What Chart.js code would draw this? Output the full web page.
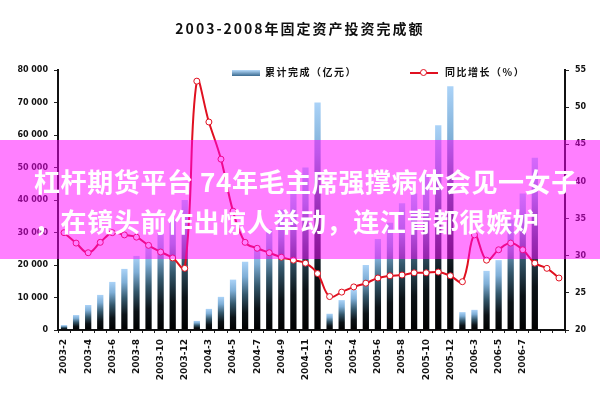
<!DOCTYPE html>
<html>
<head>
<meta charset="utf-8">
<script src="https://cdn.jsdelivr.net/npm/chart.js@4"></script>
<style>
    body { margin: 0; background: #fff; }
    #wrap { position: relative; width: 600px; height: 400px; overflow: hidden; font-family: "Noto Sans CJK SC", sans-serif; }
    #chart { position: absolute; left: 0; top: 0; }
    #title { position: absolute; top: 18px; left: 0; width: 600px; text-align: center; font-size: 14px; font-weight: bold; letter-spacing: 2px; color: #111; }
    .leg { position: absolute; top: 64px; font-size: 10px; font-weight: bold; letter-spacing: 1.5px; color: #111; }
    .swatch-bar { position: absolute; top: 70px; left: 232px; width: 28px; height: 6px; background: linear-gradient(#b8dcfc, #3a6a90); }
    .swatch-line { position: absolute; top: 72px; left: 410px; width: 28px; height: 2px; background: #e01020; }
    .swatch-dot { position: absolute; top: 69px; left: 420px; width: 5px; height: 5px; border: 1px solid #e01020; border-radius: 50%; background: #fff; }
    #banner { position: absolute; left: 0; top: 140px; width: 600px; height: 119px; background: rgba(255, 0, 255, 0.5); }
    .bl { position: absolute; left: 34px; color: #fff; font-size: 26px; font-weight: bold; letter-spacing: 0.6px; white-space: nowrap; }
</style>
</head>
<body>
<div id="wrap">
    <canvas id="chart" width="600" height="400"></canvas>
    <div id="title">2003-2008年固定资产投资完成额</div>
    <div class="swatch-bar"></div>
    <div class="leg" style="left:265px">累计完成（亿元）</div>
    <div class="swatch-line"></div>
    <div class="swatch-dot"></div>
    <div class="leg" style="left:445px">同比增长（%）</div>
    <div id="banner">
        <div class="bl" style="top:22px">杠杆期货平台 74年毛主席强撑病体会见一女子</div>
        <div class="bl" style="top:62px">，在镜头前作出惊人举动，连江青都很嫉妒</div>
    </div>
</div>
<script>
// months shown on the x axis (Feb..Dec each year, Jan is merged into Feb)
const months = [
    '2003-2', '2003-3', '2003-4', '2003-5', '2003-6', '2003-7', '2003-8', '2003-9', '2003-10', '2003-11', '2003-12',
    '2004-2', '2004-3', '2004-4', '2004-5', '2004-6', '2004-7', '2004-8', '2004-9', '2004-10', '2004-11', '2004-12',
    '2005-2', '2005-3', '2005-4', '2005-5', '2005-6', '2005-7', '2005-8', '2005-9', '2005-10', '2005-11', '2005-12',
    '2006-2', '2006-3', '2006-4', '2006-5', '2006-6', '2006-7', '2006-8', '', ''
];

// 累计完成 (亿元)
const invest = [
    1500, 4600, 7700, 10800, 14800, 18800, 22800, 26000, 30000, 34000, 40000,
    2800, 6500, 10200, 15500, 21000, 26000, 31000, 37000, 43000, 50000, 70000,
    5000, 9200, 12300, 20000, 28000, 33000, 39000, 42000, 48000, 63000, 75000,
    5500, 6200, 18200, 21500, 34000, 42000, 53000, null, null
];

// 同比增长 (%)
const growth = [
    33.1, 31.7, 30.4, 31.8, 33.1, 32.8, 32.5, 31.4, 30.5, 29.7, 28.3,
    53.5, 48.0, 43.0, 36.0, 31.8, 31.0, 30.4, 29.8, 29.4, 29.0, 27.6,
    24.5, 25.1, 25.8, 26.3, 27.0, 27.3, 27.4, 27.7, 27.7, 27.8, 27.3,
    26.5, 32.8, 29.4, 30.8, 31.7, 30.8, 29.0, 28.3, 27.0
];

const leftTicks = [0, 10000, 20000, 30000, 40000, 50000, 60000, 70000, 80000];
const rightTicks = [20, 25, 30, 35, 40, 45, 50, 55];

const tickFont = { family: "'DejaVu Sans', sans-serif", size: 8, weight: 'bold' };

// each bar fades from light blue at its top to black at the base
function barGradient(context) {
    const chart = context.chart;
    if (!chart.chartArea || context.raw == null) return '#6a9ac0';
    const yScale = chart.scales.y;
    const top = yScale.getPixelForValue(context.raw);
    const base = yScale.getPixelForValue(0);
    if (!isFinite(top) || base - top < 1) return '#1a2a34';
    const g = chart.ctx.createLinearGradient(0, top, 0, base);
    g.addColorStop(0, '#abd3f8');
    g.addColorStop(0.22, '#7eaed6');
    g.addColorStop(0.48, '#34586c');
    g.addColorStop(0.75, '#0b1216');
    g.addColorStop(1, '#000');
    return g;
}

new Chart(document.getElementById('chart'), {
    type: 'bar',
    data: {
        labels: months,
        datasets: [
            {
                type: 'line',
                label: '同比增长（%）',
                data: growth,
                yAxisID: 'y1',
                borderColor: '#e01020',
                borderWidth: 2,
                tension: 0.4,
                pointRadius: 3,
                pointBorderWidth: 1,
                pointBackgroundColor: '#fff',
                pointBorderColor: '#e01020',
                order: 0,
            },
            {
                label: '累计完成（亿元）',
                data: invest,
                yAxisID: 'y',
                backgroundColor: barGradient,
                categoryPercentage: 1,
                barPercentage: 0.52,
                order: 1,
            }
        ]
    },
    options: {
        responsive: false,
        animation: false,
        layout: { padding: { top: 70 } },
        plugins: { legend: { display: false }, tooltip: { enabled: false } },
        scales: {
            x: {
                afterFit: s => { s.height = 70; },
                grid: { display: true, drawOnChartArea: false, color: '#222', tickLength: 3 },
                border: { color: '#111', width: 2 },
                ticks: {
                    autoSkip: false,
                    maxRotation: 90,
                    minRotation: 90,
                    padding: 6,
                    color: '#111',
                    font: { family: "'DejaVu Sans', sans-serif", size: 9, weight: 'bold' },
                    callback: (v, i) => (i % 2 === 0 ? months[i] : ''),
                },
            },
            y: {
                position: 'left',
                min: 0,
                max: 80000,
                afterFit: s => { s.width = 58; },
                afterBuildTicks: s => { s.ticks = leftTicks.map(v => ({ value: v })); },
                grid: { drawOnChartArea: false, color: '#222', tickLength: 4 },
                border: { color: '#111', width: 2 },
                ticks: {
                    color: '#111',
                    font: tickFont,
                    padding: 6,
                    callback: v => (v === 0 ? '0' : String(v / 1000) + ' 000'),
                },
            },
            y1: {
                position: 'right',
                min: 20,
                max: 55,
                afterFit: s => { s.width = 35; },
                afterBuildTicks: s => { s.ticks = rightTicks.map(v => ({ value: v })); },
                grid: { drawOnChartArea: false, color: '#222', tickLength: 4 },
                border: { color: '#111', width: 2 },
                ticks: { color: '#111', font: tickFont, padding: 6 },
            },
        },
    },
});
</script>
</body>
</html>
